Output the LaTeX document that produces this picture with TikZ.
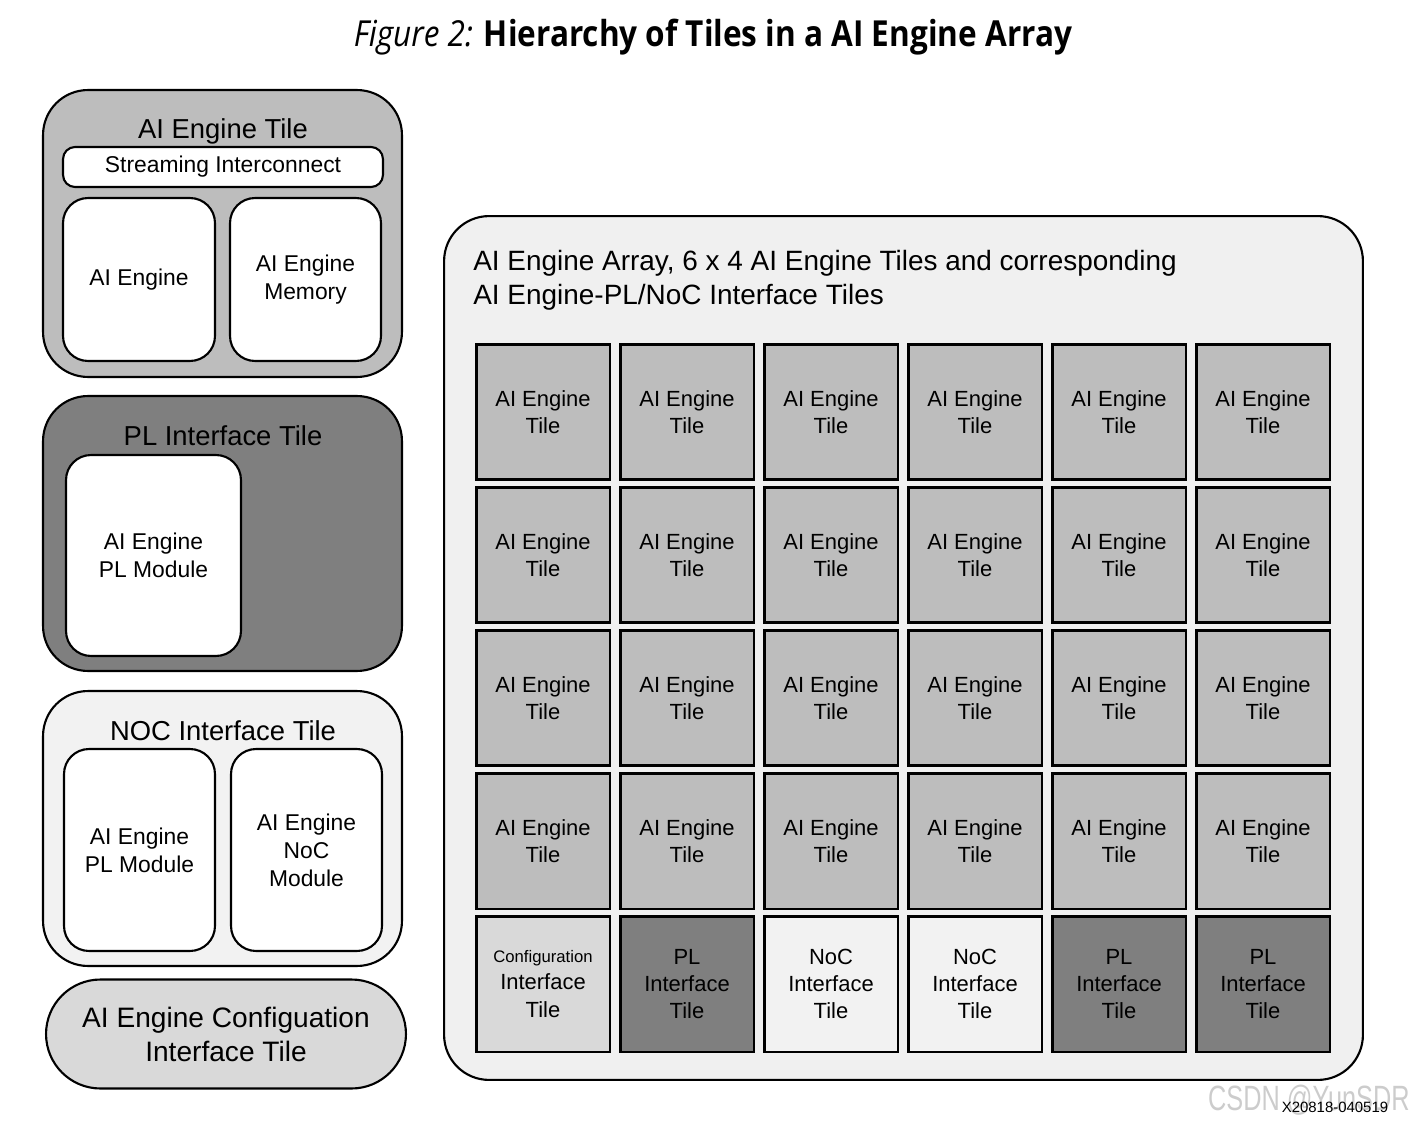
\documentclass[tikz,border=0pt]{standalone}
\usepackage{fontspec}
\setmainfont{Liberation Sans}
\newfontfamily\titlefont{Open Sans}
\usetikzlibrary{positioning}

\definecolor{aegray}{HTML}{BDBDBD}
\definecolor{plgray}{HTML}{7F7F7F}
\definecolor{nocgray}{HTML}{F2F2F2}
\definecolor{cfggray}{HTML}{D9D9D9}
\definecolor{arraybg}{HTML}{F0F0F0}

\begin{document}
\begin{tikzpicture}[x=0.02cm,y=-0.02cm]
\tikzstyle{outer}=[draw,line width=1.2pt,rounded corners=0.9cm,inner sep=0pt]
\tikzstyle{inner}=[draw,line width=1.2pt,fill=white,rounded corners=0.5cm,align=center,inner sep=0pt,font=\fontsize{13}{16}\selectfont]
\tikzstyle{hd}=[font=\fontsize{15.6}{19.2}\selectfont,align=center]
\tikzstyle{gt}=[draw,line width=1.7pt,minimum width=2.68cm,minimum height=2.72cm,inner sep=0pt,align=center,font=\fontsize{12.5}{15.4}\selectfont]
\useasboundingbox (0,0) rectangle (1413,1125);
% title
\node[font=\titlefont\fontsize{20.4}{24}\selectfont] (title) at (713,37) {\scalebox{0.88}[1]{\textit{Figure 2:} \textbf{Hierarchy of Tiles in a AI Engine Array}}};
% AI Engine tile
\node[outer,fill=aegray,minimum width=7.18cm,minimum height=5.74cm] (aet) at (222.5,233.5) {};
\node[hd] (aetl) at (223,131) {AI Engine Tile};
\node[inner,rounded corners=0.24cm,minimum width=6.4cm,minimum height=0.8cm] (si) at (223,167) {Streaming Interconnect};
\node[inner,minimum width=3.04cm,minimum height=3.26cm] (ae) at (139,279.5) {AI Engine};
\node[inner,minimum width=3.02cm,minimum height=3.26cm] (aem) at (305.5,279.5) {AI Engine\\Memory};
% PL interface tile
\node[outer,fill=plgray,minimum width=7.18cm,minimum height=5.5cm] (plt) at (222.5,533.5) {};
\node[hd] (pltl) at (223,436) {PL Interface Tile};
\node[inner,minimum width=3.5cm,minimum height=4.02cm] (plm) at (153.5,555.5) {AI Engine\\PL Module};
% NoC interface tile
\node[outer,fill=nocgray,minimum width=7.18cm,minimum height=5.5cm] (noct) at (222.5,828.5) {};
\node[hd] (noctl) at (223,731) {NOC Interface Tile};
\node[inner,minimum width=3.02cm,minimum height=4.04cm] (nplm) at (139.5,850) {AI Engine\\PL Module};
\node[inner,minimum width=3.02cm,minimum height=4.04cm] (nnm) at (306.5,850) {AI Engine\\NoC\\Module};
% configuration tile
\node[outer,fill=cfggray,rounded corners=1.09cm,minimum width=7.2cm,minimum height=2.18cm,hd,font=\fontsize{16}{19.4}\selectfont] (cfg) at (226,1034) {AI Engine Configuation\\Interface Tile};
% array
\node[outer,fill=arraybg,minimum width=18.38cm,minimum height=17.28cm] (arr) at (903.5,648) {};
\node[anchor=west,align=left,inner sep=0pt,font=\fontsize{15.9}{19.4}\selectfont] (arrl) at (473,280) {AI Engine Array, 6 x 4 AI Engine Tiles and corresponding\\AI Engine-PL/NoC Interface Tiles};
\foreach \c in {0,...,5}
  \foreach \r in {0,...,3}
    \node[gt,fill=aegray] (t\c\r) at (543+144*\c,412+143*\r) {AI Engine\\Tile};
\node[gt,fill=cfggray] (b0) at (543,984) {{\fontsize{9.5}{12}\selectfont Configuration}\\Interface\\Tile};
\node[gt,fill=plgray] (b1) at (687,984) {PL\\Interface\\Tile};
\node[gt,fill=nocgray] (b2) at (831,984) {NoC\\Interface\\Tile};
\node[gt,fill=nocgray] (b3) at (975,984) {NoC\\Interface\\Tile};
\node[gt,fill=plgray] (b4) at (1119,984) {PL\\Interface\\Tile};
\node[gt,fill=plgray] (b5) at (1263,984) {PL\\Interface\\Tile};
% marks
\node[text=gray!40,font=\fontsize{20}{24}\selectfont,anchor=east,inner sep=0pt] (wm) at (1410,1100) {\scalebox{0.72}[1]{CSDN @YunSDR}};
\node[font=\fontsize{8.5}{10}\selectfont] (fid) at (1335,1107) {X20818-040519};
\end{tikzpicture}
\end{document}
